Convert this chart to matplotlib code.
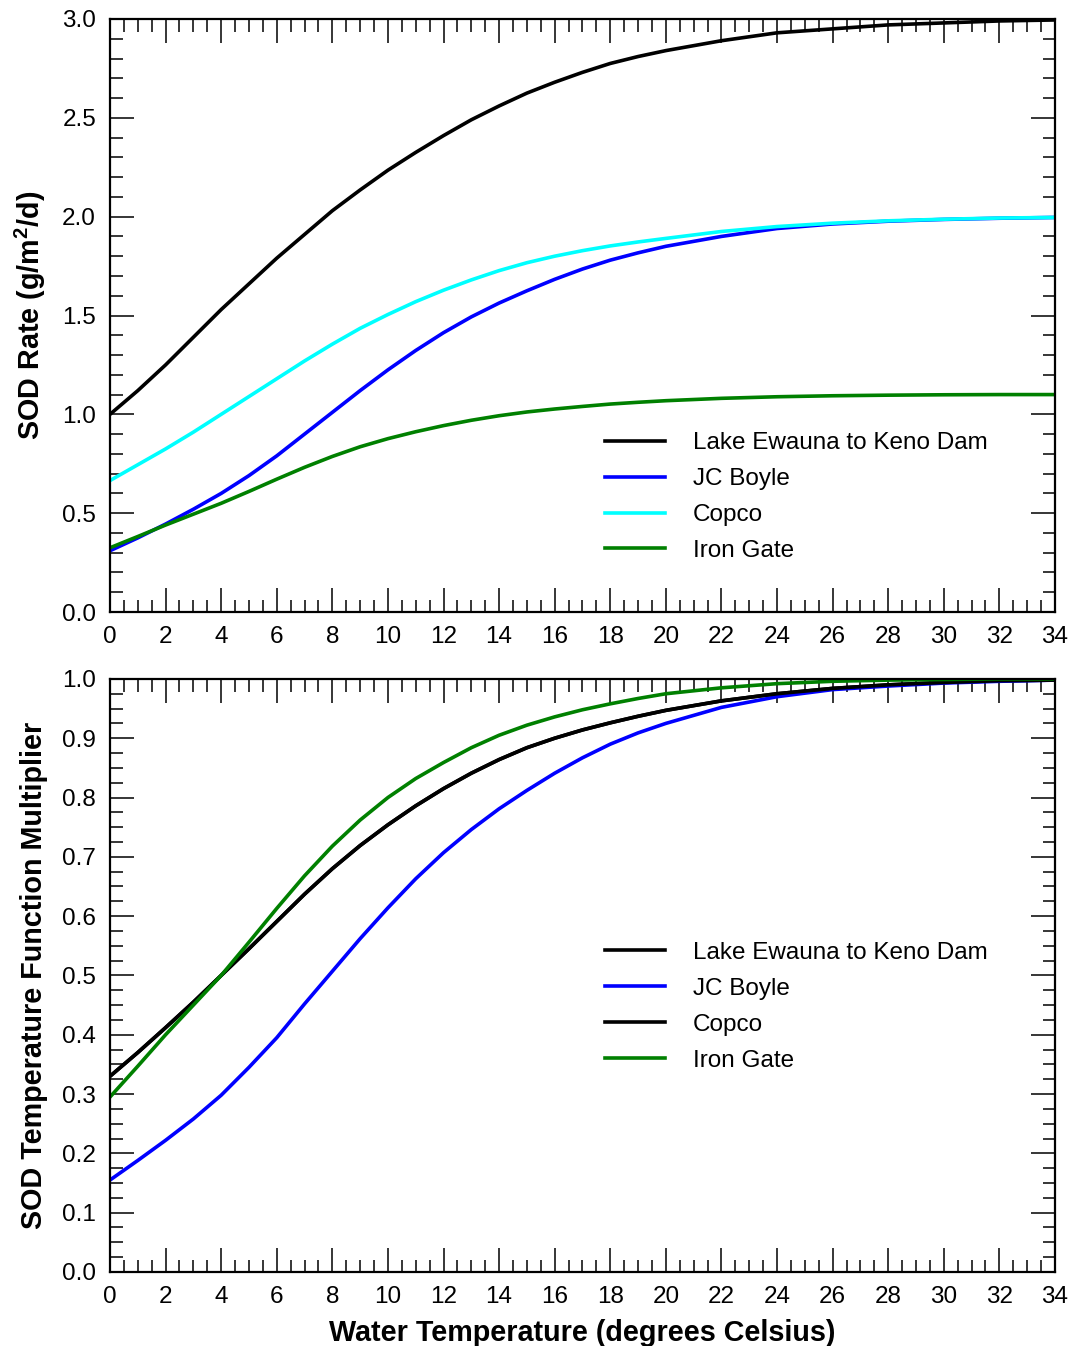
import numpy as np
import matplotlib
matplotlib.use("Agg")
import matplotlib.pyplot as plt
from matplotlib.ticker import MultipleLocator

plt.rcParams['font.family'] = ['Liberation Sans', 'DejaVu Sans']
plt.rcParams['mathtext.fontset'] = 'custom'
plt.rcParams['mathtext.rm'] = 'Liberation Sans'
plt.rcParams['mathtext.bf'] = 'Liberation Sans:bold'

# water temperature (deg C)
temp = np.array([0, 1, 2, 3, 4, 5, 6, 7, 8, 9, 10, 11, 12, 13, 14, 15, 16, 17, 18, 19, 20,
                 22, 24, 26, 28, 30, 32, 34])

# SOD rate (g/m2/d)
sod_keno = [1.00, 1.12, 1.25, 1.39, 1.53, 1.66, 1.79, 1.91, 2.03, 2.135, 2.235, 2.325, 2.41, 2.49,
            2.56, 2.625, 2.68, 2.73, 2.775, 2.81, 2.84, 2.89, 2.93, 2.95, 2.97, 2.98, 2.99, 2.995]
sod_jcboyle = [0.31, 0.375, 0.445, 0.52, 0.60, 0.69, 0.79, 0.90, 1.01, 1.12, 1.225, 1.323, 1.413,
               1.493, 1.563, 1.625, 1.683, 1.735, 1.78, 1.817, 1.85, 1.90, 1.94, 1.963, 1.977,
               1.986, 1.992, 1.996]
sod_copco = [0.665, 0.745, 0.825, 0.91, 1.00, 1.09, 1.18, 1.27, 1.355, 1.435, 1.505, 1.57, 1.628,
             1.68, 1.727, 1.767, 1.80, 1.828, 1.852, 1.872, 1.89, 1.925, 1.95, 1.967, 1.979, 1.987,
             1.993, 1.996]
sod_irongate = [0.325, 0.382, 0.44, 0.495, 0.55, 0.61, 0.672, 0.732, 0.787, 0.836, 0.877, 0.912,
                0.943, 0.970, 0.993, 1.012, 1.027, 1.040, 1.052, 1.061, 1.069, 1.081, 1.089,
                1.094, 1.097, 1.099, 1.10, 1.10]

# temperature function multiplier
mult_keno = [0.33, 0.37, 0.412, 0.455, 0.50, 0.545, 0.591, 0.637, 0.68, 0.719, 0.754, 0.786,
             0.815, 0.841, 0.864, 0.884, 0.9, 0.914, 0.926, 0.937, 0.947, 0.963, 0.975, 0.984,
             0.99, 0.994, 0.997, 0.998]
mult_jcboyle = [0.155, 0.188, 0.222, 0.258, 0.298, 0.345, 0.395, 0.452, 0.507, 0.562, 0.614,
                0.663, 0.707, 0.746, 0.781, 0.812, 0.841, 0.867, 0.89, 0.909, 0.925, 0.952,
                0.97, 0.982, 0.988, 0.993, 0.996, 0.998]
mult_copco = [0.33, 0.37, 0.412, 0.455, 0.50, 0.545, 0.591, 0.637, 0.68, 0.719, 0.754, 0.786,
              0.815, 0.841, 0.864, 0.884, 0.9, 0.914, 0.926, 0.937, 0.947, 0.963, 0.975, 0.984,
              0.99, 0.994, 0.997, 0.998]
mult_irongate = [0.295, 0.347, 0.40, 0.45, 0.50, 0.556, 0.613, 0.668, 0.718, 0.762, 0.80, 0.832,
                 0.859, 0.884, 0.905, 0.922, 0.936, 0.948, 0.958, 0.967, 0.975, 0.985, 0.992,
                 0.996, 0.998, 0.999, 1.0, 1.0]

labels = ["Lake Ewauna to Keno Dam", "JC Boyle", "Copco", "Iron Gate"]
top_colors = ["black", "#0000ff", "#00ffff", "#008000"]
bottom_colors = ["black", "#0000ff", "black", "#008000"]

fig = plt.figure(figsize=(10.72, 13.46), dpi=100)
ax1 = fig.add_axes([0.1026, 0.5453, 0.8815, 0.4406])
ax2 = fig.add_axes([0.1026, 0.0550, 0.8815, 0.4406])


def style_axis(ax, ymax, ymajor, yminor):
    ax.set_xlim(0, 34)
    ax.set_ylim(0, ymax)
    ax.xaxis.set_major_locator(MultipleLocator(2))
    ax.xaxis.set_minor_locator(MultipleLocator(0.5))
    ax.yaxis.set_major_locator(MultipleLocator(ymajor))
    ax.yaxis.set_minor_locator(MultipleLocator(yminor))
    ax.yaxis.set_major_formatter('{x:.1f}')
    ax.tick_params(which='both', direction='in', top=True, right=True, width=1.1)
    ax.tick_params(which='major', length=17, labelsize=17.5, pad=10)
    ax.tick_params(which='minor', length=9)
    for sp in ax.spines.values():
        sp.set_linewidth(1.6)


leg_kw = dict(loc='upper left', frameon=False, fontsize=17.5, handlelength=2.47,
              handletextpad=1.15, labelspacing=0.57, borderpad=0, borderaxespad=0)

for y, c, lab in zip([sod_keno, sod_jcboyle, sod_copco, sod_irongate], top_colors, labels):
    ax1.plot(temp, y, color=c, lw=2.6, label=lab)
style_axis(ax1, 3.0, 0.5, 0.1)
ax1.set_ylabel(r"SOD Rate (g/m$\mathbf{^2}$/d)", fontsize=20.7, fontweight='bold')
ax1.yaxis.set_label_coords(-0.066, 0.5)
ax1.legend(bbox_to_anchor=(0.524, 0.303), **leg_kw)

for y, c, lab in zip([mult_keno, mult_jcboyle, mult_copco, mult_irongate], bottom_colors, labels):
    ax2.plot(temp, y, color=c, lw=2.6, label=lab)
style_axis(ax2, 1.0, 0.1, 0.025)
ax2.set_ylabel("SOD Temperature Function Multiplier", fontsize=20.7, fontweight='bold')
ax2.yaxis.set_label_coords(-0.066, 0.5)
ax2.set_xlabel("Water Temperature (degrees Celsius)", fontsize=20.7, fontweight='bold')
ax2.xaxis.set_label_coords(0.5, -0.079)
ax2.legend(bbox_to_anchor=(0.524, 0.5565), **leg_kw)

fig.savefig("out.png", dpi=100)
